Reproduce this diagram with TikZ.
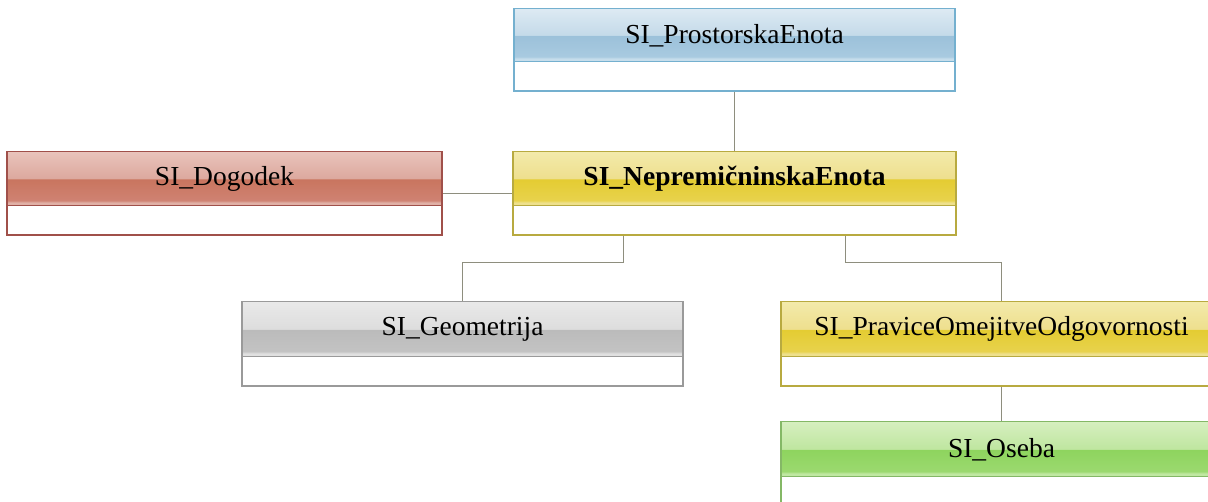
\documentclass[tikz,border=0pt]{standalone}
\usepackage{fontspec}
\setmainfont{Liberation Serif}
% colours per class: top, up (upper half bottom), low (lower half top), lowb (lower half bottom), strip, border
\definecolor{bluetop}{HTML}{DDEAF3}\definecolor{blueup}{HTML}{C4DAE9}\definecolor{bluelow}{HTML}{9CC1DA}\definecolor{bluelowb}{HTML}{A8CAE0}\definecolor{bluestrip}{HTML}{C6DDEB}\definecolor{blueborder}{HTML}{74B0CF}
\definecolor{redtop}{HTML}{E9C3BB}\definecolor{redup}{HTML}{DCA99E}\definecolor{redlow}{HTML}{C9755F}\definecolor{redlowb}{HTML}{CF8272}\definecolor{redstrip}{HTML}{E0B0A6}\definecolor{redborder}{HTML}{A0504A}
\definecolor{ylwtop}{HTML}{F3EAAA}\definecolor{ylwup}{HTML}{EEDF8E}\definecolor{ylwlow}{HTML}{E4CC32}\definecolor{ylwlowb}{HTML}{E8D24C}\definecolor{ylwstrip}{HTML}{EEE08C}\definecolor{ylwborder}{HTML}{B8AA40}
\definecolor{grytop}{HTML}{E9E9E9}\definecolor{gryup}{HTML}{DDDDDD}\definecolor{grylow}{HTML}{BBBBBB}\definecolor{grylowb}{HTML}{C3C3C3}\definecolor{grystrip}{HTML}{E0E0E0}\definecolor{gryborder}{HTML}{9A9A9A}
\definecolor{grntop}{HTML}{D6EFBF}\definecolor{grnup}{HTML}{BFE6A0}\definecolor{grnlow}{HTML}{8ED45E}\definecolor{grnlowb}{HTML}{9BD96F}\definecolor{grnstrip}{HTML}{C0E8A2}\definecolor{grnborder}{HTML}{84B866}
\definecolor{linec}{HTML}{8E8E7E}
\newcommand{\mkshade}[1]{\pgfdeclareverticalshading{h#1}{100bp}{color(0bp)=(#1strip); color(25bp)=(#1strip); color(28bp)=(#1strip); color(30bp)=(#1lowb); color(49.6bp)=(#1low); color(50.4bp)=(#1up); color(75bp)=(#1top); color(100bp)=(#1top)}}
\mkshade{blue}\mkshade{red}\mkshade{ylw}\mkshade{gry}\mkshade{grn}
\tikzset{
  cls/.style={draw=#1border, line width=1.5pt, minimum width=441pt, minimum height=83pt, inner sep=0pt, fill=white},
  hd/.style={draw=#1border, line width=1.2pt, shading=h#1, minimum width=441pt, minimum height=54pt, anchor=north, inner sep=0pt, font=\fontsize{27.5}{30}\selectfont},
  ln/.style={draw=linec, line width=1pt}
}
\begin{document}
\begin{tikzpicture}[x=1pt,y=1pt]
\path[use as bounding box] (0,0) rectangle (1208,-502);
% class boxes
\node[cls=blue] (pro) at (734.5,-50) [minimum height=82pt] {};
\node[hd=blue, minimum height=53pt] (proh) at (pro.north) {SI\_ProstorskaEnota};
\node[cls=red, minimum width=435pt] (dog) at (224.5,-193.5) {};
\node[hd=red, minimum width=435pt] (dogh) at (dog.north) {SI\_Dogodek};
\node[cls=ylw, minimum width=443pt] (nep) at (734.5,-193.5) {};
\node[hd=ylw, minimum width=443pt] (neph) at (nep.north) {\textbf{SI\_NepremičninskaEnota}};
\node[cls=gry, minimum height=84pt] (geo) at (462.5,-344) {};
\node[hd=gry, minimum height=55pt] (geoh) at (geo.north) {SI\_Geometrija};
\node[cls=ylw, minimum height=84pt] (prav) at (1001.5,-344) {};
\node[hd=ylw, minimum height=55pt] (pravh) at (prav.north) {SI\_PraviceOmejitveOdgovornosti};
\node[cls=grn, minimum height=84pt] (ose) at (1001.5,-464) {};
\node[hd=grn, minimum height=55pt] (oseh) at (ose.north) {SI\_Oseba};
% connectors
\draw[ln] (pro.south) -- (nep.north);
\draw[ln] (dog.east) -- (nep.west);
\draw[ln] ([xshift=-111.5pt]nep.south) -- ++(0,-27) -| (geo.north);
\draw[ln] ([xshift=110.5pt]nep.south) -- ++(0,-27) -| (prav.north);
\draw[ln] (prav.south) -- (ose.north);
\end{tikzpicture}
\end{document}
